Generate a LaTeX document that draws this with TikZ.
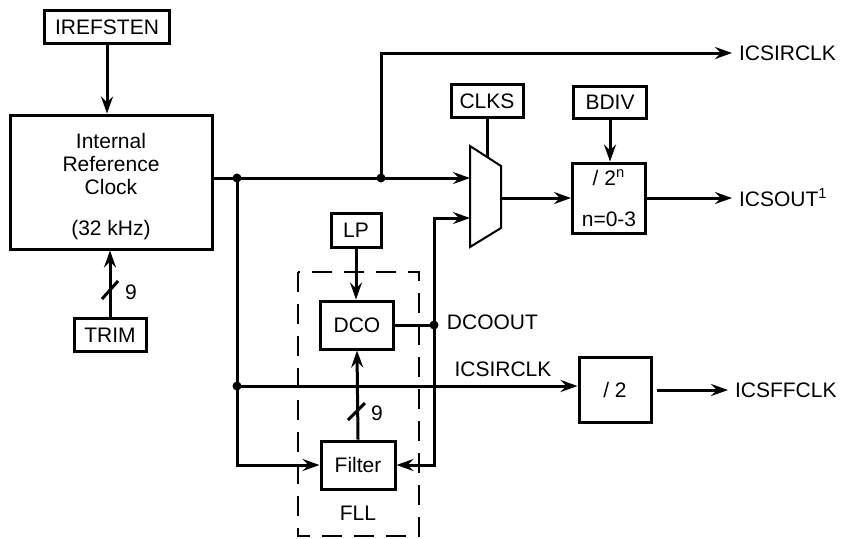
\documentclass[tikz,border=0pt]{standalone}
\usepackage{fontspec}
\setmainfont{Liberation Sans}
\usetikzlibrary{arrows.meta, positioning, calc}
\tikzset{
	blk/.style    ={rectangle, draw=black, line width=1.5pt, inner sep=1pt, align=center},
	sig/.style    ={-{Stealth[length=8.5pt, width=6pt, inset=3pt]}, line width=1.5pt},
	wire/.style   ={line width=1.5pt},
	junc/.style   ={circle, fill=black, inner sep=0pt, minimum size=4.5pt},
	fllbox/.style ={draw=black, line width=1pt, dash pattern=on 10pt off 6pt},
}

\begin{document}
\begin{tikzpicture}[x=0.5pt, y=-0.5pt, font=\fontsize{10.5}{11.5}\selectfont]
	\useasboundingbox (0,0) rectangle (845,538);
	% blocks
	\node[blk, minimum width=62.5pt, minimum height=16.5pt] (irefsten) at (107,27) {IREFSTEN};
	\node[blk, minimum width=101pt, minimum height=67pt] (irc) at (111,182) {\rule{0pt}{12.6pt}Internal\\Reference\\Clock\\[9pt](32 kHz)};
	\node[blk, minimum width=36pt, minimum height=16.5pt] (trim) at (110,335) {TRIM};
	\node[blk, minimum width=36pt, minimum height=16.5pt] (clks) at (487,101) {CLKS};
	\node[blk, minimum width=36.5pt, minimum height=16pt] (bdiv) at (610,102) {BDIV};
	\node[blk, minimum width=36.5pt, minimum height=35pt] (divn) at (609,198) {/ 2\textsuperscript{n}\\[9pt]n=0-3};
	\node[blk, minimum width=25pt, minimum height=17pt] (lp) at (356,230) {LP};
	\node[blk, minimum width=36.5pt, minimum height=24pt] (dco) at (357,325) {DCO};
	\node[blk, minimum width=37pt, minimum height=24pt] (filter) at (358,465) {Filter};
	\node[blk, minimum width=36pt, minimum height=32.5pt] (div2) at (615,390) {/ 2};
	% FLL frame
	\draw[fllbox] (298,272) rectangle (419,536);
	\node (fll) at (358,513) {FLL};
	% clock mux
	\draw[line width=1pt] (470,146) -- (501,166) -- (501,228) -- (470,247) -- cycle;
	\coordinate (muxa) at (470,178);
	\coordinate (muxb) at (470,218);
	\coordinate (muxo) at (501,198);
	\coordinate (muxs) at (487,157);
	% junctions
	\node[junc] (ja) at (237,178) {};
	\node[junc] (jb) at (381,178) {};
	\node[junc] (jc) at (237,386) {};
	\node[junc] (jd) at (434,325) {};
	% outputs
	\coordinate (oirc) at (732,53);
	\coordinate (oout) at (732,198);
	\coordinate (offc) at (728,390);
	\node[right] (lirc) at (oirc) {ICSIRCLK};
	\node[right] (lout) at (oout) {ICSOUT\textsuperscript{1}};
	\node[right] (lffc) at (offc) {ICSFFCLK};
	\node[right=0.5pt of jd, yshift=1.5pt] (ldco) {DCOOUT};
	\node[above=1pt] (lirc2) at (503,386) {ICSIRCLK};
	% connectors
	\draw[sig] (irefsten.south) -- (irefsten.south |- irc.north);
	\draw[sig] (trim.north) -- (trim.north |- irc.south);
	\draw[wire] (102,299) -- (118,281);
	\node (ntrim) at (131,292) {9};
	\draw[sig] (irc.east |- muxa) -- (muxa);
	\draw[sig] (jb.center) |- (oirc);
	\draw[sig] (ja.center) |- (filter.west);
	\draw[sig] (jc.center) -- (jc -| div2.west);
	\draw[wire] (clks.south) -- (muxs);
	\draw[sig] (muxo) -- (muxo -| divn.west);
	\draw[sig] (bdiv.south) -- (bdiv.south |- divn.north);
	\draw[sig] (divn.east) -- (oout);
	\draw[sig] (lp.south) -- (lp.south |- dco.north);
	\draw[wire] (dco.east) -- (jd.center);
	\draw[sig] (jd.center) |- (muxb);
	\draw[sig] (jd.center) |- (filter.east);
	\draw[sig] (filter.north) -- (dco.south);
	\draw[wire] (348,420) -- (365,403);
	\node (nfilt) at (377,413) {9};
	\draw[sig] ([xshift=2pt]div2.east) -- (offc);
\end{tikzpicture}
\end{document}
